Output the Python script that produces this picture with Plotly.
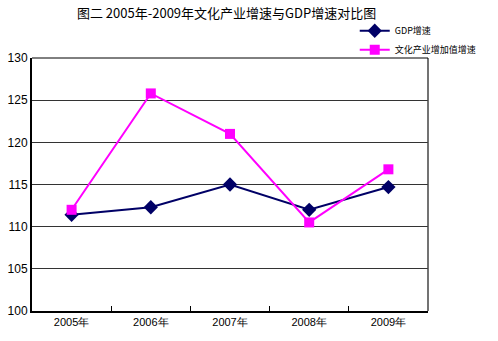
import plotly.graph_objects as go

years = ["2005年", "2006年", "2007年", "2008年", "2009年"]
gdp = [111.4, 112.3, 115.0, 112.0, 114.7]
culture = [112.0, 125.8, 121.0, 110.5, 116.8]
series_names = ["GDP增速", "文化产业增加值增速"]
y_ticks = [100, 105, 110, 115, 120, 125, 130]

fig = go.Figure()
fig.add_trace(go.Scatter(x=years, y=gdp, name=series_names[0], mode="lines+markers",
                         line=dict(color="#000066", width=2),
                         marker=dict(symbol="diamond", size=11, color="#000066")))
fig.add_trace(go.Scatter(x=years, y=culture, name=series_names[1], mode="lines+markers",
                         line=dict(color="#FF00FF", width=2),
                         marker=dict(symbol="square", size=10, color="#FF00FF")))

fig.update_layout(
    width=498, height=341,
    margin=dict(l=32, r=70, t=58, b=30, autoexpand=False),
    paper_bgcolor="white", plot_bgcolor="white",
    font=dict(family="Noto Sans CJK SC, SimSun, sans-serif", color="black"),
    title=dict(text="图二 2005年-2009年文化产业增速与GDP增速对比图", x=0.455, xanchor="center",
               y=0.962, yanchor="middle", font=dict(size=13, family="Noto Sans CJK SC")),
    showlegend=True,
    legend=dict(x=0.815, y=1.165, xanchor="left", yanchor="top", bgcolor="rgba(0,0,0,0)",
                font=dict(size=9), tracegroupgap=0, itemwidth=30),
    xaxis=dict(type="category", showline=True, linecolor="black", linewidth=2,
               ticks="inside", tickson="boundaries", ticklen=5, tickcolor="black",
               showgrid=False, mirror=False, tickfont=dict(size=11, family="Liberation Sans"),
               range=[-0.5, 4.5]),
    yaxis=dict(range=[100, 130], tickvals=y_ticks, showline=True, linecolor="black", linewidth=2,
               showgrid=True, gridcolor="#333333", gridwidth=1, ticks="",
               tickfont=dict(size=12, family="Liberation Sans"), zeroline=False),
)
# right and top borders of plot area
fig.add_shape(type="line", xref="paper", yref="paper", x0=1, x1=1, y0=0, y1=1,
              line=dict(color="#444444", width=1.5))
fig.add_shape(type="line", xref="paper", yref="paper", x0=0, x1=1, y0=1, y1=1,
              line=dict(color="black", width=1))

fig.write_html("out.html")
